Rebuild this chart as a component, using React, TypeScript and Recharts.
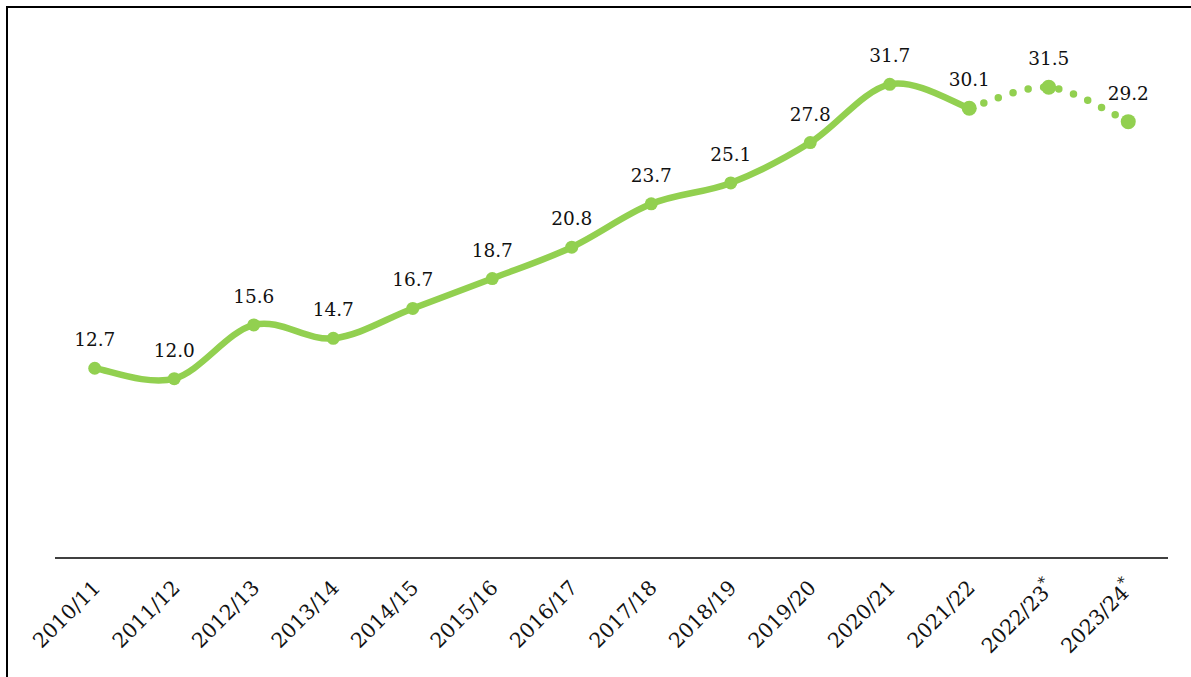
import React from "react";
import { LineChart, Line, XAxis, YAxis, LabelList } from "recharts";

const categories = [
  "2010/11", "2011/12", "2012/13", "2013/14", "2014/15", "2015/16", "2016/17",
  "2017/18", "2018/19", "2019/20", "2020/21", "2021/22", "2022/23*", "2023/24*",
];
const actualValues: (number | null)[] = [
  12.7, 12.0, 15.6, 14.7, 16.7, 18.7, 20.8, 23.7, 25.1, 27.8, 31.7, 30.1, null, null,
];
const forecastValues: (number | null)[] = [
  null, null, null, null, null, null, null, null, null, null, null, 30.1, 31.5, 29.2,
];
const yDomain = [0, 35];

const GREEN = "#92D050";
const FONT = "'DejaVu Serif', Georgia, serif";

const data = categories.map((name, i) => ({
  name,
  actual: actualValues[i],
  forecast: forecastValues[i],
}));

// Catmull-Rom style smoothing (similar to spreadsheet "smoothed line")
function smoothCurve(context: any) {
  let pts: number[][] = [];
  return {
    areaStart() {},
    areaEnd() {},
    lineStart() {
      pts = [];
    },
    point(x: number, y: number) {
      pts.push([+x, +y]);
    },
    lineEnd() {
      const n = pts.length;
      if (!n) return;
      context.moveTo(pts[0][0], pts[0][1]);
      if (n === 1) {
        context.lineTo(pts[0][0], pts[0][1]);
        return;
      }
      for (let i = 0; i < n - 1; i++) {
        const p0 = pts[i - 1] || pts[i];
        const p1 = pts[i];
        const p2 = pts[i + 1];
        const p3 = pts[i + 2] || pts[i + 1];
        context.bezierCurveTo(
          p1[0] + (p2[0] - p0[0]) / 6,
          p1[1] + (p2[1] - p0[1]) / 6,
          p2[0] - (p3[0] - p1[0]) / 6,
          p2[1] - (p3[1] - p1[1]) / 6,
          p2[0],
          p2[1]
        );
      }
    },
  };
}

const ValueLabel = (skipIndex?: (i: number) => boolean) => (props: any) => {
  const { x, y, value, index } = props;
  if (value == null) return null;
  if (skipIndex && skipIndex(index)) return null;
  return (
    <text
      x={x}
      y={y - 22}
      textAnchor="middle"
      fontFamily={FONT}
      fontSize={18.5}
      fill="#111"
    >
      {Number(value).toFixed(1)}
    </text>
  );
};

const Tick = (props: any) => {
  const { x, y, payload } = props;
  const label: string = payload.value;
  const star = label.endsWith("*");
  const base = star ? label.slice(0, -1) : label;
  return (
    <g transform={`translate(${x + 7},${y + 31}) rotate(-45)`}>
      <text x={0} y={0} textAnchor="end" fontFamily={FONT} fontSize={20.5} fill="#111">
        {base}
        {star ? (
          <tspan fontSize={15} dy={-9}>
            *
          </tspan>
        ) : null}
      </text>
    </g>
  );
};

export default function App() {
  return (
    <div
      style={{
        position: "fixed",
        left: 0,
        top: 0,
        width: 1191,
        height: 677,
        overflow: "hidden",
        background: "#fff",
      }}
    >
      <div
        style={{
          position: "absolute",
          left: 6,
          top: 6,
          width: 1400,
          height: 900,
          borderLeft: "2px solid #000",
          borderTop: "2px solid #000",
        }}
      />
      <div style={{ position: "absolute", left: 0, top: 0 }}>
        <LineChart
          width={1191}
          height={677}
          data={data}
          margin={{ top: 35, right: 23, left: 55, bottom: 39 }}
        >
          <XAxis
            dataKey="name"
            height={80}
            interval={0}
            padding={{ left: 39.75, right: 39.75 }}
            tickLine={false}
            tickSize={0}
            tickMargin={0}
            axisLine={{ stroke: "#000", strokeWidth: 1.6 }}
            tick={<Tick />}
          />
          <YAxis hide width={0} domain={yDomain} />
          <Line
            dataKey="actual"
            type={smoothCurve as any}
            stroke={GREEN}
            strokeWidth={6.5}
            dot={{ r: 6.5, fill: GREEN, stroke: "none" }}
            activeDot={false}
            isAnimationActive={false}
          >
            <LabelList dataKey="actual" content={ValueLabel()} />
          </Line>
          <Line
            dataKey="forecast"
            type={smoothCurve as any}
            stroke={GREEN}
            strokeWidth={7.5}
            strokeDasharray="0 15.5"
            strokeLinecap="round"
            dot={{ r: 7.5, fill: GREEN, stroke: "none", strokeDasharray: "0" }}
            activeDot={false}
            isAnimationActive={false}
          >
            <LabelList
              dataKey="forecast"
              content={ValueLabel((i) => actualValues[i] != null)}
            />
          </Line>
        </LineChart>
      </div>
    </div>
  );
}
